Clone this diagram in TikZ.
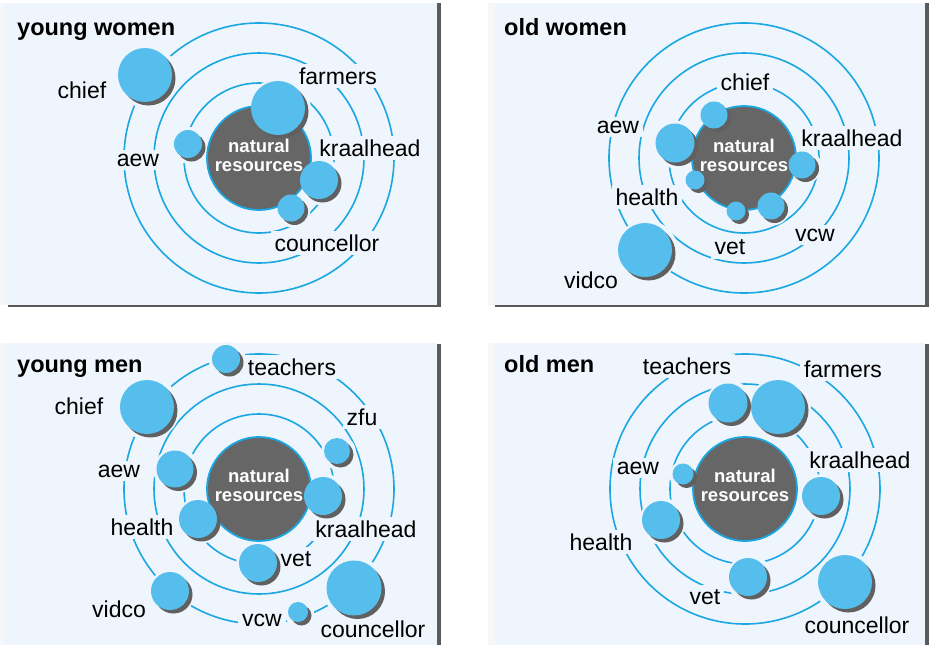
\documentclass[tikz,border=0pt]{standalone}
\usepackage{fontspec}
\setmainfont{Liberation Sans}
\definecolor{bgc}{HTML}{EEF5FC}
\definecolor{stripc}{HTML}{F6F7F8}
\definecolor{ringc}{HTML}{1AA7E2}
\definecolor{bubc}{HTML}{56BEEC}
\definecolor{darkc}{HTML}{666666}
\definecolor{shadc}{HTML}{606060}
\definecolor{barc}{HTML}{5A5A5A}
\tikzset{
  ring/.style={draw=ringc, line width=1.6pt},
  lab/.style={fill=bgc, inner sep=4pt, text=black, font=\fontsize{23}{25}\selectfont},
  ttl/.style={anchor=base west, inner sep=0pt, text=black, font=\bfseries\fontsize{23.5}{25}\selectfont},
  core/.style={circle, fill=darkc, draw=ringc, line width=1.8pt, minimum size=104pt, inner sep=0pt},
  coretext/.style={align=center, inner sep=0pt, text=white, font=\bfseries\fontsize{18.5}{19}\selectfont},
  bub/.style={circle, fill=bubc, inner sep=0pt, outer sep=0pt},
  halo/.style={fill=bgc},
  shad/.style={fill=shadc},
}
\newcommand\ringset[2]{%
  \foreach \rr in {75,105,135} \draw[ring] (#1,#2) circle[radius=\rr*1pt];}
\begin{document}
\begin{tikzpicture}[x=1pt,y=-1pt]
\useasboundingbox (0,0) rectangle (930,645);
% ---------- panel backgrounds ----------
\fill[stripc] (0,3) rectangle (4,305);
\fill[bgc] (4,3) rectangle (437,305);
\fill[barc] (437,3) rectangle (441,306.6);
\draw[barc, line width=1.2pt] (8,306) -- (441,306);
\fill[stripc] (488,3) rectangle (495,305);
\fill[bgc] (495,3) rectangle (925,305);
\fill[barc] (925,3) rectangle (929,306.6);
\draw[barc, line width=1.2pt] (495,306) -- (929,306);
\fill[stripc] (0,343) rectangle (4,645);
\fill[bgc] (4,343) rectangle (437,645);
\fill[barc] (437,344) rectangle (441,645);
\fill[stripc] (488,343) rectangle (495,645);
\fill[bgc] (495,343) rectangle (925,645);
\fill[barc] (925,344) rectangle (929,645);
% ---------- rings ----------
\ringset{259}{158}
\ringset{744}{158}
\ringset{259}{489}
\ringset{745}{489}
% ---------- halos (gaps in rings around bubbles) ----------
\foreach \x/\y/\r in {145/75/27, 278/108/27, 188/144/14, 319/180/19, 291/208/13.5,
  714/115/13.5, 675/143/19.5, 802/165/13.5, 695/180/9.5, 736/211/9.5, 771/206/13.5, 645/250/27,
  226/359/14, 147/407/27, 337/451/13, 175/469/18.5, 323/496/19, 198/519/19, 258/563/19, 170/591/19, 298/612/10, 354/588/27.5,
  728/403/19.5, 778/407/27, 683/474/10.5, 821/496/19, 661/520/19, 748/577/19, 845/582/27}
  \fill[halo] (\x+1.5,\y+1.5) circle[radius=\r*1pt+4.5pt];
% ---------- titles ----------
\node[ttl] (t-yw) at (17,35) {young women};
\node[ttl] (t-ow) at (504,35) {old women};
\node[ttl] (t-ym) at (17,372) {young men};
\node[ttl] (t-om) at (504,372) {old men};
% ---------- labels ----------
% young women
\node[lab] (yw-l-chief) at (82,90) {chief};
\node[lab] (yw-l-farm) at (338,76) {farmers};
\node[lab] (yw-l-aew) at (138,160) {aew};
\node[lab] (yw-l-kraal) at (370,148) {kraalhead};
\node[lab] (yw-l-counc) at (327,243) {councellor};
% old women
\node[lab] (ow-l-chief) at (745,82) {chief};
\node[lab] (ow-l-aew) at (618,127) {aew};
\node[lab] (ow-l-kraal) at (852,138) {kraalhead};
\node[lab] (ow-l-health) at (647,197) {health};
\node[lab] (ow-l-vet) at (730,247) {vet};
\node[lab] (ow-l-vcw) at (815,235) {vcw};
\node[lab] (ow-l-vidco) at (591,280) {vidco};
% young men
\node[lab] (ym-l-teach) at (292,367) {teachers};
\node[lab] (ym-l-chief) at (79,406) {chief};
\node[lab] (ym-l-zfu) at (362,417) {zfu};
\node[lab] (ym-l-aew) at (119,471) {aew};
\node[lab] (ym-l-health) at (142,527) {health};
\node[lab] (ym-l-kraal) at (366,529) {kraalhead};
\node[lab] (ym-l-vet) at (296,559) {vet};
\node[lab] (ym-l-vidco) at (119,609) {vidco};
\node[lab] (ym-l-vcw) at (262,620) {vcw};
\node[lab] (ym-l-counc) at (373,629) {councellor};
% old men
\node[lab] (om-l-teach) at (687,366) {teachers};
\node[lab] (om-l-farm) at (843,369) {farmers};
\node[lab] (om-l-aew) at (638,468) {aew};
\node[lab] (om-l-kraal) at (860,460) {kraalhead};
\node[lab] (om-l-health) at (601,542) {health};
\node[lab] (om-l-vet) at (705,597) {vet};
\node[lab] (om-l-counc) at (857,625) {councellor};
% ---------- cores ----------
\node[core] (yw-core) at (259,158) {};
\node[coretext] (yw-nr) at (259,155) {natural\\resources};
\node[core] (ow-core) at (744,158) {};
\node[coretext] (ow-nr) at (744,155) {natural\\resources};
\node[core] (ym-core) at (259,489) {};
\node[coretext] (ym-nr) at (259,485) {natural\\resources};
\node[core] (om-core) at (745,489) {};
\node[coretext] (om-nr) at (745,485) {natural\\resources};
% ---------- bubbles ----------
\foreach \n/\x/\y/\r in {yw-chief/145/75/27, yw-farm/278/108/27, yw-aew/188/144/14, yw-kraal/319/180/19, yw-counc/291/208/13.5,
  ow-chief/714/115/13.5, ow-aew/675/143/19.5, ow-kraal/802/165/13.5, ow-health/695/180/9.5, ow-vet/736/211/9.5, ow-vcw/771/206/13.5, ow-vidco/645/250/27,
  ym-teach/226/359/14, ym-chief/147/407/27, ym-zfu/337/451/13, ym-aew/175/469/18.5, ym-kraal/323/496/19, ym-health/198/519/19, ym-vet/258/563/19, ym-vidco/170/591/19, ym-vcw/298/612/10, ym-counc/354/588/27.5,
  om-teach/728/403/19.5, om-farm/778/407/27, om-aew/683/474/10.5, om-kraal/821/496/19, om-health/661/520/19, om-vet/748/577/19, om-counc/845/582/27}
{
  \fill[shad] (\x+3.5,\y+3.5) circle[radius=\r*1pt];
  \node[bub, minimum size=\r*2pt] (\n) at (\x,\y) {};
}
\end{tikzpicture}
\end{document}
